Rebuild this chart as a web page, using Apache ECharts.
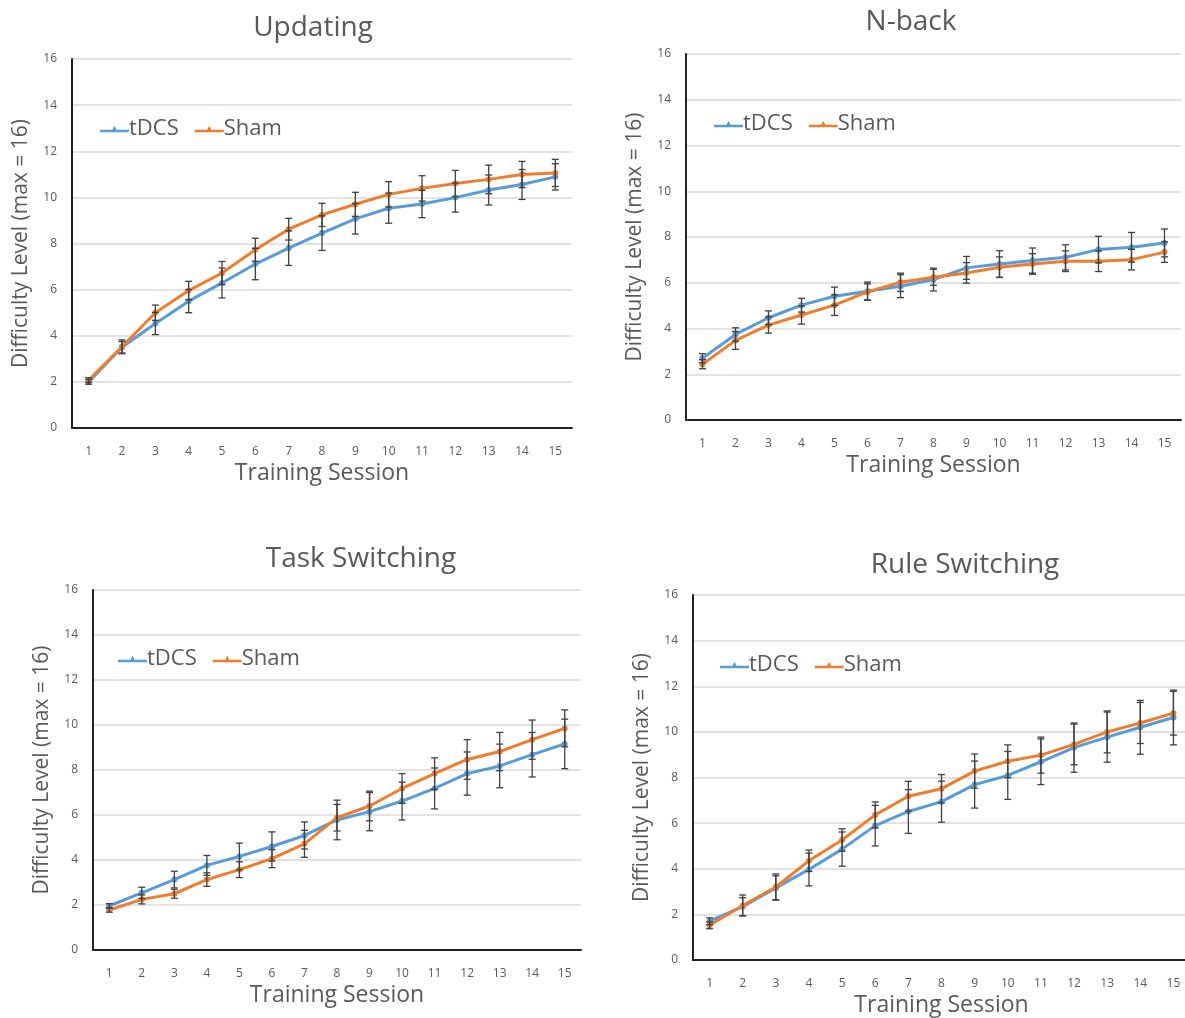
<!DOCTYPE html>
<html><head><meta charset="utf-8">
<script src="https://cdn.jsdelivr.net/npm/echarts@6/dist/echarts.min.js"></script>
<style>html,body{margin:0;padding:0;background:#fff;overflow:hidden}#c{width:1200px;height:1018px}</style>
</head><body><div id="c"></div>
<script>
const sessions = ['1','2','3','4','5','6','7','8','9','10','11','12','13','14','15'];
const yTicks = [0,2,4,6,8,10,12,14,16];
const panelTitles = ['Updating','N-back','Task Switching','Rule Switching'];
const seriesNames = ['tDCS','Sham'];

const updTdcs    = [2.0,3.5,4.53,5.5,6.29,7.11,7.8,8.45,9.07,9.53,9.71,9.99,10.32,10.56,10.89];
const updTdcsErr = [0.1,0.25,0.48,0.5,0.65,0.68,0.75,0.75,0.66,0.65,0.59,0.63,0.65,0.65,0.57];
const updSham    = [2.08,3.52,5.0,5.96,6.72,7.73,8.62,9.24,9.7,10.13,10.39,10.6,10.78,10.99,11.06];
const updShamErr = [0.1,0.3,0.33,0.4,0.5,0.5,0.47,0.5,0.52,0.55,0.55,0.57,0.62,0.57,0.59];

const nbTdcs    = [2.7,3.74,4.47,5.02,5.41,5.63,5.85,6.14,6.65,6.82,6.97,7.11,7.45,7.55,7.74];
const nbTdcsErr = [0.2,0.29,0.3,0.3,0.4,0.4,0.5,0.5,0.5,0.58,0.55,0.55,0.58,0.65,0.61];
const nbSham    = [2.44,3.48,4.15,4.59,5.02,5.6,6.02,6.24,6.43,6.68,6.82,6.94,6.94,7.01,7.34];
const nbShamErr = [0.2,0.39,0.35,0.4,0.45,0.35,0.4,0.35,0.45,0.45,0.45,0.45,0.45,0.45,0.45];

const tsTdcs    = [1.96,2.54,3.13,3.76,4.16,4.6,5.09,5.78,6.15,6.62,7.18,7.84,8.18,8.68,9.16];
const tsTdcsErr = [0.1,0.25,0.37,0.44,0.59,0.65,0.6,0.88,0.85,0.84,0.91,0.96,0.97,0.99,1.1];
const tsSham    = [1.78,2.25,2.5,3.13,3.57,4.06,4.72,5.88,6.4,7.18,7.84,8.47,8.82,9.35,9.85];
const tsShamErr = [0.1,0.2,0.2,0.3,0.35,0.4,0.6,0.59,0.66,0.66,0.7,0.88,0.85,0.87,0.82];

const rsTdcs    = [1.7,2.34,3.16,3.97,4.86,5.89,6.51,6.94,7.69,8.09,8.69,9.31,9.77,10.2,10.63];
const rsTdcsErr = [0.15,0.39,0.53,0.72,0.75,0.89,0.96,0.9,1.03,1.05,1.0,1.08,1.1,1.18,1.2];
const rsSham    = [1.52,2.39,3.2,4.35,5.26,6.36,7.18,7.51,8.28,8.71,8.98,9.45,10.0,10.39,10.82];
const rsShamErr = [0.15,0.46,0.57,0.47,0.49,0.57,0.65,0.62,0.75,0.72,0.79,0.89,0.92,0.9,0.96];

const panelData = [
  [updTdcs, updTdcsErr, updSham, updShamErr],
  [nbTdcs, nbTdcsErr, nbSham, nbShamErr],
  [tsTdcs, tsTdcsErr, tsSham, tsShamErr],
  [rsTdcs, rsTdcsErr, rsSham, rsShamErr]
];

const FONT = '"Open Sans", "Noto Sans", sans-serif';
const BLUE = '#5B9BD5', ORANGE = '#ED7D31', TXT = '#595959';
const LEGEND_ICON = 'path://M0,6 L12,6 L14,2 L16,6 L28,6 L28,8.5 L0,8.5 Z';
const layout = [
  {grid:{left:72, top:59, width:500, height:369}, title:[308,9], legend:[95,113], ynameGap:40},
  {grid:{left:686, top:54, width:495, height:366}, title:[906,3], legend:[709,108], ynameGap:40},
  {grid:{left:93, top:590, width:488, height:360}, title:[356,540], legend:[113,643], ynameGap:40},
  {grid:{left:693, top:595, width:497, height:367}, title:[960,546], legend:[715,649], ynameGap:40}
];

const grids=[], xAxes=[], yAxes=[], series=[], titles=[], legends=[];
function errRender(params, api){
  const x = api.value(0), lo = api.value(1), hi = api.value(2);
  const p1 = api.coord([x, lo]), p2 = api.coord([x, hi]);
  const w = 3.5;
  const st = {stroke:'#404040', lineWidth:1.3};
  return {type:'group', children:[
    {type:'line', shape:{x1:p1[0],y1:p1[1],x2:p2[0],y2:p2[1]}, style:st},
    {type:'line', shape:{x1:p1[0]-w,y1:p1[1],x2:p1[0]+w,y2:p1[1]}, style:st},
    {type:'line', shape:{x1:p2[0]-w,y1:p2[1],x2:p2[0]+w,y2:p2[1]}, style:st}
  ]};
}
layout.forEach((L,i)=>{
  grids.push(L.grid);
  titles.push({text:panelTitles[i], left:L.title[0], top:L.title[1], textAlign:'center',
    textStyle:{fontFamily:FONT, fontSize:28, fontWeight:'normal', color:TXT}});
  legends.push({data:seriesNames.map(n=>({name:n, icon:LEGEND_ICON})), left:L.legend[0], top:L.legend[1],
    itemWidth:29, itemHeight:9, itemGap:16,
    textStyle:{fontFamily:FONT, fontSize:22, color:TXT, padding:[0,0,0,-5]}, selectedMode:false});
  xAxes.push({type:'category', gridIndex:i, data:sessions, boundaryGap:true,
    axisLine:{lineStyle:{color:'#222', width:2}}, axisTick:{show:false},
    axisLabel:{fontFamily:FONT, fontSize:12, color:TXT, margin:18},
    name:'Training Session', nameLocation:'middle', nameGap:34,
    nameTextStyle:{fontFamily:FONT, fontSize:23, color:TXT}});
  yAxes.push({type:'value', gridIndex:i, min:0, max:16, interval:2,
    axisLine:{show:true, lineStyle:{color:'#222', width:2}}, axisTick:{show:false},
    splitLine:{lineStyle:{color:'#d9d9d9', width:1.5}},
    axisLabel:{fontFamily:FONT, fontSize:12, color:TXT, margin:15},
    name:'Difficulty Level (max = 16)', nameLocation:'middle', nameGap:L.ynameGap, nameRotate:90,
    nameTextStyle:{fontFamily:FONT, fontSize:21, color:TXT}});
  const d = panelData[i];
  [[0,BLUE],[2,ORANGE]].forEach(([k,col],j)=>{
    series.push({name:seriesNames[j], type:'line', xAxisIndex:i, yAxisIndex:i, data:d[k],
      symbol:'circle', symbolSize:6, lineStyle:{width:3, color:col}, itemStyle:{color:col},
      z:3, animation:false});
  });
  [[0,1],[2,3]].forEach(([k,e])=>{
    series.push({type:'custom', xAxisIndex:i, yAxisIndex:i, renderItem:errRender, z:4, animation:false,
      data:d[k].map((v,idx)=>[idx, v-d[e][idx], v+d[e][idx]]), silent:true});
  });
});

const chart = echarts.init(document.getElementById('c'), null, {renderer:'canvas'});
chart.setOption({animation:false, title:titles, legend:legends, grid:grids, xAxis:xAxes, yAxis:yAxes, series:series});
</script></body></html>
